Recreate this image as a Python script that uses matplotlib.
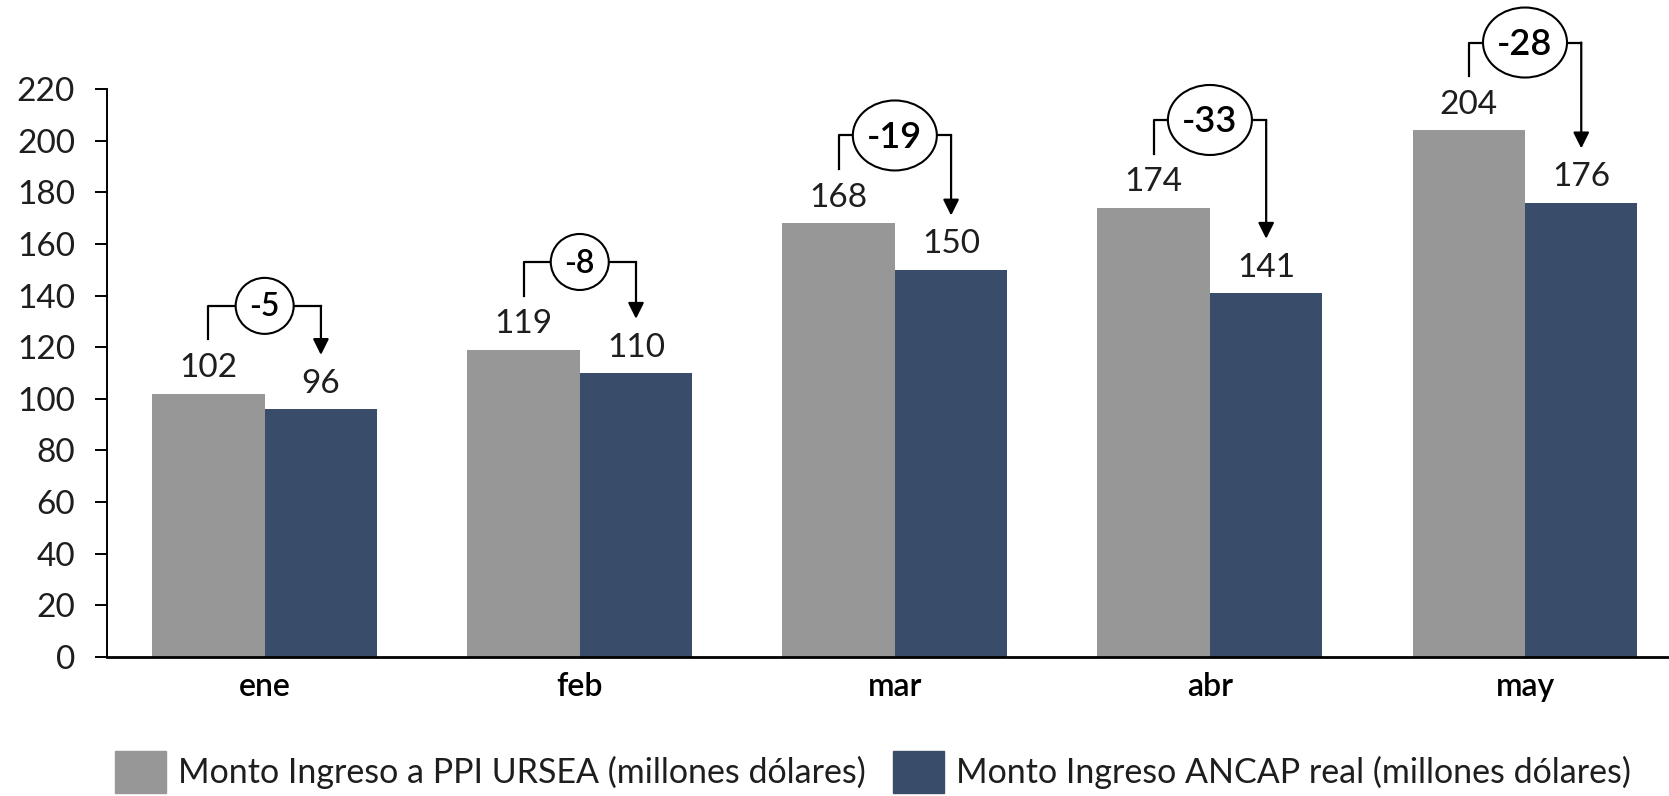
import matplotlib.pyplot as plt
import matplotlib.patches as mpatches
import numpy as np

plt.rcParams['font.family'] = ['Lato', 'DejaVu Sans']

# Data
meses = ['ene', 'feb', 'mar', 'abr', 'may']
ursea = [102, 119, 168, 174, 204]
ancap = [96, 110, 150, 141, 176]
diferencia = ['-5', '-8', '-19', '-33', '-28']
ticks_y = np.arange(0, 221, 20)

gris = '#979797'
azul = '#394C6A'
texto = '#1e1e1e'

W, H = 1669, 796
fig = plt.figure(figsize=(W / 100, H / 100), dpi=100)
ax = fig.add_axes([106.5 / W, 139 / H, 1 - 106.5 / W, 568 / H])

x = np.arange(len(meses))
w = 0.357
ax.bar(x - w / 2, ursea, w, color=gris)
ax.bar(x + w / 2, ancap, w, color=azul)

xmin, xmax, ymin, ymax = -0.502, 4.457, 0, 220
ax.set_xlim(xmin, xmax)
ax.set_ylim(ymin, ymax)
ax.set_yticks(ticks_y)
ax.set_xticks(x)
ax.set_xticklabels(meses, fontsize=23, color='black', fontweight='semibold')
ax.tick_params(axis='x', length=0, pad=11)
ax.tick_params(axis='y', length=8.6, width=1.4, pad=14, labelsize=24, labelcolor=texto)

ax.spines['top'].set_visible(False)
ax.spines['right'].set_visible(False)
ax.spines['left'].set_linewidth(1.4)
ax.spines['bottom'].set_linewidth(2)

# px por unidad de datos
px_x = (W - 106.5) / (xmax - xmin)
px_y = 568 / (ymax - ymin)

# Etiquetas de datos
for i in range(len(meses)):
    ax.text(x[i] - w / 2, ursea[i] + 4, str(ursea[i]), ha='center', va='bottom',
            fontsize=24, color=texto)
    ax.text(x[i] + w / 2, ancap[i] + 4, str(ancap[i]), ha='center', va='bottom',
            fontsize=24, color=texto)

# Corchetes con diferencia
for i in range(len(meses)):
    xl = x[i] - w / 2
    xr = x[i] + w / 2
    top = ursea[i] + 34
    ax.plot([xl, xl, xr], [ursea[i] + 21, top, top], color='black', lw=1.6,
            clip_on=False, zorder=3)
    ax.annotate('', xy=(xr, ancap[i] + 21), xytext=(xr, top),
                arrowprops=dict(arrowstyle='-|>', lw=1.6, color='black',
                                mutation_scale=24, shrinkA=0, shrinkB=0),
                annotation_clip=False, zorder=3)
    corto = len(diferencia[i]) == 2
    ew, eh = (58, 56) if corto else (84, 70)
    ax.add_patch(mpatches.Ellipse((x[i], top), ew / px_x, eh / px_y, fc='white',
                                  ec='black', lw=1.5, zorder=4, clip_on=False))
    ax.text(x[i], top - 0.6, diferencia[i], ha='center', va='center',
            fontsize=23 if corto else 26, fontweight='semibold', color='black',
            zorder=5, clip_on=False)

handles = [mpatches.Patch(color=gris), mpatches.Patch(color=azul)]
labels = ['Monto Ingreso a PPI URSEA (millones dólares)',
          'Monto Ingreso ANCAP real (millones dólares)']
fig.legend(handles, labels, loc='center', bbox_to_anchor=(0.523, 0.03), ncol=2,
           frameon=False, fontsize=24.5, handlelength=1.5, handleheight=1.5,
           handletextpad=0.35, columnspacing=0.8, labelcolor=texto)

fig.savefig('out.png', dpi=100)
